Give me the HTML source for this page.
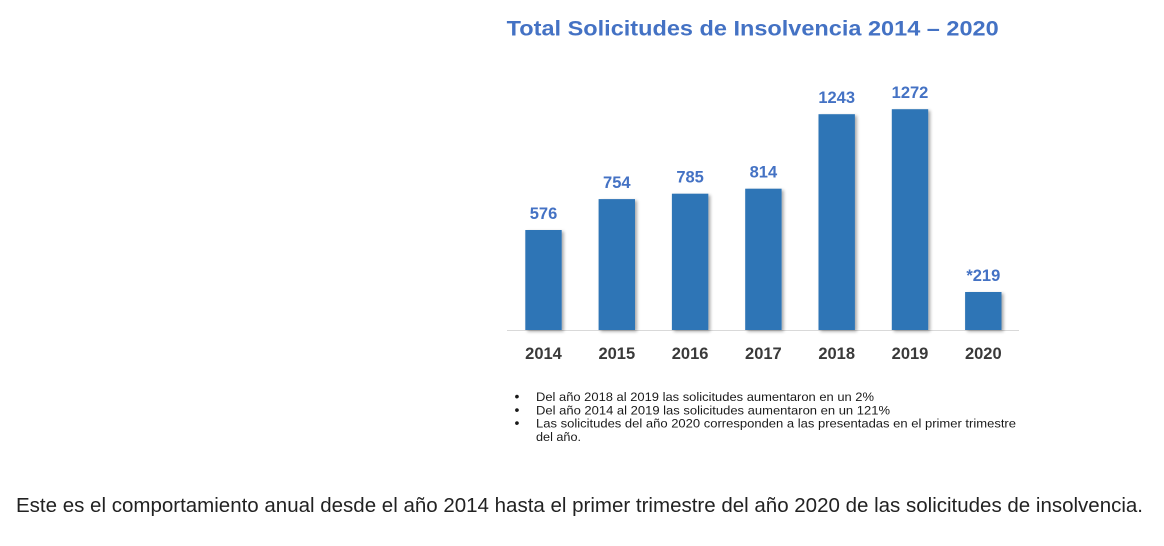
<!DOCTYPE html>
<html>
<head>
<meta charset="utf-8">
<style>
  html,body{margin:0;padding:0;background:#ffffff;}
  svg{display:block;}
  text{font-family:"Liberation Sans", Arial, sans-serif;}
</style>
</head>
<body>
<svg width="1164" height="546" viewBox="0 0 1164 546" xmlns="http://www.w3.org/2000/svg">
  <defs>
    <filter id="sh" x="-20%" y="-5%" width="150%" height="115%">
      <feGaussianBlur in="SourceAlpha" stdDeviation="1.5"/>
      <feOffset dx="2" dy="1.5" result="b"/>
      <feComponentTransfer><feFuncA type="linear" slope="0.35"/></feComponentTransfer>
      <feMerge><feMergeNode/><feMergeNode in="SourceGraphic"/></feMerge>
    </filter>
  </defs>
  <rect width="1164" height="546" fill="#ffffff"/>

  <!-- Title -->
  <text x="506.7" y="35.5" font-size="21" font-weight="bold" fill="#4472C4" textLength="492" lengthAdjust="spacingAndGlyphs">Total Solicitudes de Insolvencia 2014 – 2020</text>

  <!-- axis line -->
  <line x1="507" y1="330.5" x2="1019" y2="330.5" stroke="#d9d9d9" stroke-width="1"/>

  <!-- bars -->
  <g fill="#2E75B6" filter="url(#sh)">
    <rect x="525.3" y="230" width="36.4" height="100"/>
    <rect x="598.6" y="199.1" width="36.4" height="130.9"/>
    <rect x="671.9" y="193.7" width="36.4" height="136.3"/>
    <rect x="745.2" y="188.7" width="36.4" height="141.3"/>
    <rect x="818.5" y="114.2" width="36.4" height="215.8"/>
    <rect x="891.8" y="109.2" width="36.4" height="220.8"/>
    <rect x="965.1" y="292" width="36.4" height="38"/>
  </g>

  <!-- value labels -->
  <g font-size="16.5" font-weight="bold" fill="#4472C4" text-anchor="middle">
    <text x="543.5" y="219">576</text>
    <text x="616.8" y="188">754</text>
    <text x="690.1" y="182.7">785</text>
    <text x="763.4" y="177.7">814</text>
    <text x="836.7" y="103.2">1243</text>
    <text x="910" y="98.2">1272</text>
    <text x="983.3" y="281">*219</text>
  </g>

  <!-- year labels -->
  <g font-size="16.5" font-weight="bold" fill="#3a3a3a" text-anchor="middle">
    <text x="543.5" y="359">2014</text>
    <text x="616.8" y="359">2015</text>
    <text x="690.1" y="359">2016</text>
    <text x="763.4" y="359">2017</text>
    <text x="836.7" y="359">2018</text>
    <text x="910" y="359">2019</text>
    <text x="983.3" y="359">2020</text>
  </g>

  <!-- bullets -->
  <g font-size="12.3" fill="#1a1a1a">
    <text x="514.5" y="401" font-size="14">•</text>
    <text x="514.5" y="414.3" font-size="14">•</text>
    <text x="514.5" y="427.6" font-size="14">•</text>
    <text x="536" y="401" textLength="338" lengthAdjust="spacingAndGlyphs">Del año 2018 al 2019 las solicitudes aumentaron en un 2%</text>
    <text x="536" y="414.3" textLength="354" lengthAdjust="spacingAndGlyphs">Del año 2014 al 2019 las solicitudes aumentaron en un 121%</text>
    <text x="536" y="427.6" textLength="480" lengthAdjust="spacingAndGlyphs">Las solicitudes del año 2020 corresponden a las presentadas en el primer trimestre</text>
    <text x="536" y="440.9" textLength="45" lengthAdjust="spacingAndGlyphs">del año.</text>
  </g>

  <!-- bottom sentence -->
  <text x="16" y="512" font-size="20" fill="#222222" textLength="1127" lengthAdjust="spacingAndGlyphs">Este es el comportamiento anual desde el año 2014 hasta el primer trimestre del año 2020 de las solicitudes de insolvencia.</text>
</svg>
</body>
</html>
